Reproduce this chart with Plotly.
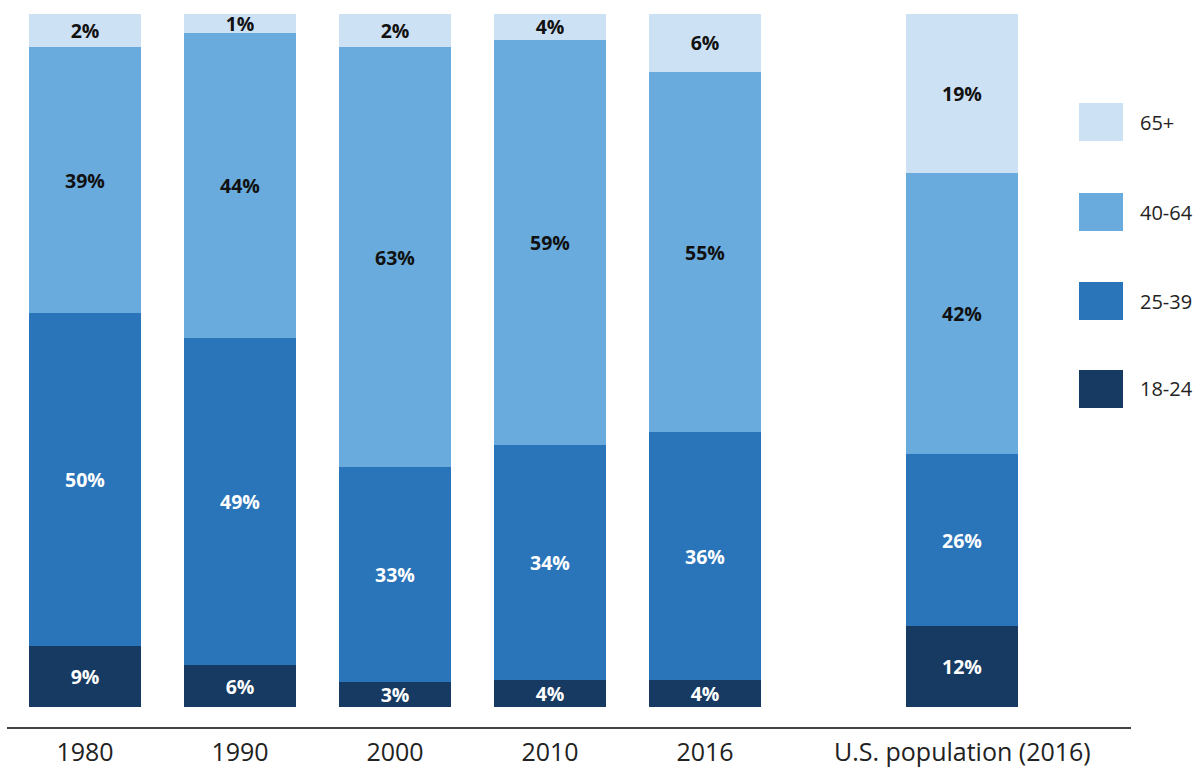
import plotly.graph_objects as go

# Categories
categories = ["1980", "1990", "2000", "2010", "2016", "U.S. population (2016)"]
cat_pos = [0, 1, 2, 3, 4, 5.66]

# Age groups (bottom to top)
groups = ["18-24", "25-39", "40-64", "65+"]

# Printed labels (percent)
label_18_24 = [9, 6, 3, 4, 4, 12]
label_25_39 = [50, 49, 33, 34, 36, 26]
label_40_64 = [39, 44, 63, 59, 55, 42]
label_65p = [2, 1, 2, 4, 6, 19]

# Segment sizes as drawn in the picture (percent of bar height)
size_18_24 = [8.8, 6.0, 3.6, 3.9, 3.9, 11.7]
size_25_39 = [48.1, 47.2, 31.1, 33.9, 35.8, 24.8]
size_40_64 = [38.4, 44.1, 60.6, 58.4, 51.9, 40.5]
size_65p = [4.8, 2.8, 4.9, 4.1, 8.5, 23.0]

colors = {"18-24": "#173a63", "25-39": "#2a74ba", "40-64": "#68abdc", "65+": "#cde1f4"}
text_colors = {"18-24": "white", "25-39": "white", "40-64": "#111111", "65+": "#111111"}

sizes = {"18-24": size_18_24, "25-39": size_25_39, "40-64": size_40_64, "65+": size_65p}
labels = {"18-24": label_18_24, "25-39": label_25_39, "40-64": label_40_64, "65+": label_65p}

FONT = "Open Sans"

fig = go.Figure()
for g in groups:
    fig.add_trace(go.Bar(
        x=cat_pos, y=sizes[g], name=g,
        marker=dict(color=colors[g], line=dict(width=0)),
        width=0.723,
        text=[f"{v}%" for v in labels[g]],
        textposition="inside", insidetextanchor="middle",
        textfont=dict(family=FONT, size=19.5, color=text_colors[g], weight="bold"),
        showlegend=False, hoverinfo="skip",
    ))

# Legend drawn manually (top to bottom: 65+, 40-64, 25-39, 18-24)
PLOT_L, PLOT_R, PLOT_B, PLOT_T = 7, 1131, 727, 14
def px_x(p):
    return (p - PLOT_L) / (PLOT_R - PLOT_L)
def px_y(p):
    return (PLOT_B - p) / (PLOT_B - PLOT_T)

legend_tops = [103, 193, 282, 370]
for g, top in zip(["65+", "40-64", "25-39", "18-24"], legend_tops):
    fig.add_shape(type="rect", xref="paper", yref="paper",
                  x0=px_x(1079), x1=px_x(1123), y0=px_y(top + 38), y1=px_y(top),
                  fillcolor=colors[g], line=dict(width=0))
    fig.add_annotation(xref="paper", yref="paper", x=px_x(1138), y=px_y(top + 19),
                       text=g, showarrow=False, xanchor="left", yanchor="middle",
                       font=dict(family=FONT, size=20, color="#222222"))

fig.update_layout(
    width=1198, height=767,
    margin=dict(l=PLOT_L, r=1198 - PLOT_R, t=PLOT_T, b=767 - PLOT_B, autoexpand=False),
    paper_bgcolor="white", plot_bgcolor="white",
    barmode="stack", bargap=0,
    uniformtext=dict(minsize=19, mode="show"),
    xaxis=dict(range=[-0.503, 6.748], tickvals=cat_pos, ticktext=categories,
               showgrid=False, zeroline=False, showline=True, linecolor="#444444",
               linewidth=1.5, ticks="", ticklabelstandoff=2, automargin=False,
               tickfont=dict(family=FONT, size=25, color="#222222"),
               fixedrange=True),
    yaxis=dict(range=[-2.886, 100.0], visible=False, showgrid=False, zeroline=False,
               fixedrange=True, automargin=False),
    showlegend=False,
)

fig.write_html("out.html", config={"displayModeBar": False},
               post_script="document.body.style.margin='0';document.body.style.overflow='hidden';")
